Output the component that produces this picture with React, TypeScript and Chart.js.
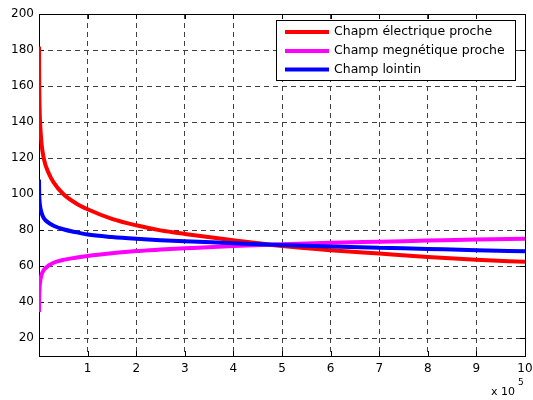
import React, { useEffect, useRef } from "react";
import { Chart, registerables } from "chart.js";

Chart.register(...registerables);

// x values in units of 10^5
const xValues = [0.0006, 0.001, 0.002, 0.005, 0.01, 0.02, 0.05, 0.1, 0.2, 0.3, 0.5, 0.75, 1, 1.5, 2, 2.5, 3, 4, 5, 6, 7, 8, 9, 10];
const electricNear = [182, 176, 170, 159, 150, 141, 128.5, 119.5, 111.5, 106.5, 100, 95, 91.5, 86.2, 82.6, 79.8, 77.8, 74.3, 71.1, 68.8, 66.9, 65, 63.5, 62.3];
const magneticNear = [34.5, 37, 40, 43.8, 47, 50.5, 55, 57.8, 60.3, 61.8, 63.4, 64.6, 65.6, 67.1, 68.3, 69.1, 69.8, 71.1, 72.1, 72.9, 73.5, 74.1, 74.7, 75.2];
const farField = [108, 106, 103, 99.2, 96.4, 93.6, 89.8, 86.5, 84, 82.4, 80.4, 78.8, 77.5, 76.1, 75.1, 74.3, 73.7, 72.7, 71.6, 70.9, 70.2, 69.5, 68.8, 68.2];

const seriesLabels = ["Chapm électrique proche", "Champ megnétique proche", "Champ lointin"];
const seriesColors = ["#ff0000", "#ff00ff", "#0000ff"];
const xTicks = [1, 2, 3, 4, 5, 6, 7, 8, 9, 10];
const yTicks = [20, 40, 60, 80, 100, 120, 140, 160, 180, 200];
const xExponentBase = "x 10";
const xExponent = "5";

const FONT = "'DejaVu Sans', sans-serif";

const overlayPlugin = {
  id: "overlay",
  beforeDatasetsDraw(chart: any) {
    const { ctx, chartArea: a, scales } = chart;
    ctx.save();
    ctx.strokeStyle = "#000";
    ctx.lineWidth = 1;
    ctx.strokeRect(a.left + 0.5, a.top + 0.5, a.right - a.left, a.bottom - a.top);
    const tl = 5;
    ctx.beginPath();
    for (const v of xTicks) {
      const px = Math.round(scales.x.getPixelForValue(v)) + 0.5;
      ctx.moveTo(px, a.bottom);
      ctx.lineTo(px, a.bottom - tl);
      ctx.moveTo(px, a.top);
      ctx.lineTo(px, a.top + tl);
    }
    for (const v of yTicks) {
      const py = Math.round(scales.y.getPixelForValue(v)) + 0.5;
      ctx.moveTo(a.left, py);
      ctx.lineTo(a.left + tl, py);
      ctx.moveTo(a.right, py);
      ctx.lineTo(a.right - tl, py);
    }
    ctx.stroke();
    ctx.restore();
  },
  afterDraw(chart: any) {
    const { ctx } = chart;
    ctx.save();
    // legend
    const bx = 276, by = 20, bw = 239, bh = 60;
    ctx.fillStyle = "#fff";
    ctx.fillRect(bx, by, bw, bh);
    ctx.strokeStyle = "#000";
    ctx.lineWidth = 1;
    ctx.strokeRect(bx + 0.5, by + 0.5, bw, bh);
    const rows = [32, 51, 69.5];
    chart.data.datasets.forEach((ds: any, i: number) => {
      ctx.strokeStyle = ds.borderColor;
      ctx.lineWidth = 4;
      ctx.beginPath();
      ctx.moveTo(285, rows[i]);
      ctx.lineTo(329, rows[i]);
      ctx.stroke();
      ctx.fillStyle = "#000";
      ctx.font = `12.5px ${FONT}`;
      ctx.textBaseline = "middle";
      ctx.textAlign = "left";
      ctx.fillText(ds.label, 334, rows[i]);
    });
    // exponent
    ctx.fillStyle = "#000";
    ctx.textBaseline = "alphabetic";
    ctx.font = `11px ${FONT}`;
    ctx.fillText(xExponentBase, 491, 395);
    ctx.font = `9px ${FONT}`;
    ctx.fillText(xExponent, 518, 385);
    ctx.restore();
  },
};

export default function App() {
  const ref = useRef<HTMLCanvasElement | null>(null);
  useEffect(() => {
    document.body.style.margin = "0";
    document.body.style.overflow = "hidden";
    const canvas = ref.current!;
    const series = [electricNear, magneticNear, farField];
    const chart = new Chart(canvas, {
      type: "line",
      data: {
        datasets: series.map((ys, i) => ({
          label: seriesLabels[i],
          data: xValues.map((x, j) => ({ x, y: ys[j] })),
          borderColor: seriesColors[i],
          backgroundColor: seriesColors[i],
          borderWidth: 4,
          pointRadius: 0,
          cubicInterpolationMode: "monotone" as const,
          clip: 0,
          order: 2 - i,
        })),
      },
      options: {
        animation: false,
        responsive: false,
        devicePixelRatio: 1,
        layout: { padding: { top: 14, right: 8, left: 0, bottom: 0 } },
        plugins: { legend: { display: false }, tooltip: { enabled: false } },
        scales: {
          x: {
            type: "linear",
            min: 0,
            max: 10,
            afterFit: (s: any) => { s.height = 44; s.paddingLeft = 0; s.paddingRight = 0; },
            afterBuildTicks: (s: any) => { s.ticks = xTicks.map((v) => ({ value: v })); },
            grid: { color: "#404040", lineWidth: 1, drawTicks: false },
            border: { display: false, dash: [5, 4] },
            ticks: { color: "#000", font: { family: FONT, size: 12 }, padding: 6, maxRotation: 0, autoSkip: false },
          },
          y: {
            type: "linear",
            min: 10,
            max: 200,
            afterFit: (s: any) => { s.width = 39; s.paddingTop = 0; s.paddingBottom = 0; },
            afterBuildTicks: (s: any) => { s.ticks = yTicks.map((v) => ({ value: v })); },
            grid: { color: "#404040", lineWidth: 1, drawTicks: false },
            border: { display: false, dash: [5, 4] },
            ticks: { color: "#000", font: { family: FONT, size: 12 }, padding: 5, autoSkip: false },
          },
        },
      },
      plugins: [overlayPlugin],
    });
    return () => chart.destroy();
  }, []);
  return <canvas ref={ref} width={533} height={400} style={{ display: "block", width: 533, height: 400 }} />;
}
